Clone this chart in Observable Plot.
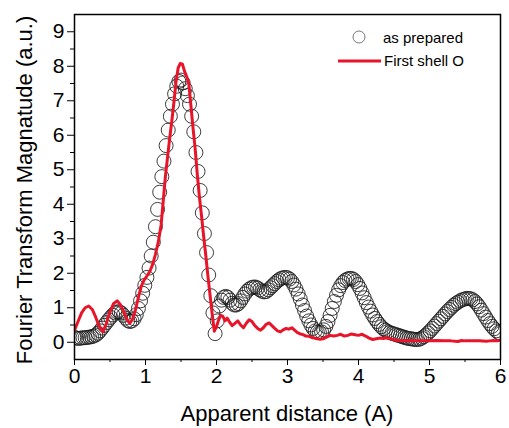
<!DOCTYPE html>
<html><head><meta charset="utf-8">
<script src="https://cdn.jsdelivr.net/npm/d3@7"></script>
<script src="https://cdn.jsdelivr.net/npm/@observablehq/plot@0.6"></script>
<style>body{margin:0;background:#fff}#chart{width:509px;height:428px}</style>
</head><body><div id="chart"></div>
<script>
const xTicks = [0, 1, 2, 3, 4, 5, 6];
const xMinor = [0.5, 1.5, 2.5, 3.5, 4.5, 5.5];
const yTicks = [0, 1, 2, 3, 4, 5, 6, 7, 8, 9];
const yMinor = [0.5, 1.5, 2.5, 3.5, 4.5, 5.5, 6.5, 7.5, 8.5];

// "as prepared" (open circles)
const prepDist = [0.00,0.03,0.06,0.09,0.12,0.15,0.18,0.21,0.24,0.27,0.30,0.33,0.36,0.39,0.42,0.45,0.48,0.51,0.54,0.57,
0.60,0.63,0.66,0.69,0.72,0.75,0.78,0.81,0.84,0.87,0.90,0.93,0.96,0.99,1.02,1.05,1.08,1.11,1.14,1.17,
1.20,1.23,1.26,1.29,1.32,1.35,1.38,1.41,1.44,1.47,1.50,1.53,1.56,1.59,1.62,1.65,1.68,1.71,1.74,1.77,
1.80,1.83,1.86,1.89,1.92,1.95,1.98,2.01,2.04,2.07,2.10,2.13,2.16,2.19,2.22,2.25,2.28,2.31,2.34,2.37,
2.40,2.43,2.46,2.49,2.52,2.55,2.58,2.61,2.64,2.67,2.70,2.73,2.76,2.79,2.82,2.85,2.88,2.91,2.94,2.97,
3.00,3.03,3.06,3.09,3.12,3.15,3.18,3.21,3.24,3.27,3.30,3.33,3.36,3.39,3.42,3.45,3.48,3.51,3.54,3.57,
3.60,3.63,3.66,3.69,3.72,3.75,3.78,3.81,3.84,3.87,3.90,3.93,3.96,3.99,4.02,4.05,4.08,4.11,4.14,4.17,
4.20,4.23,4.26,4.29,4.32,4.35,4.38,4.41,4.44,4.47,4.50,4.53,4.56,4.59,4.62,4.65,4.68,4.71,4.74,4.77,
4.80,4.83,4.86,4.89,4.92,4.95,4.98,5.01,5.04,5.07,5.10,5.13,5.16,5.19,5.22,5.25,5.28,5.31,5.34,5.37,
5.40,5.43,5.46,5.49,5.52,5.55,5.58,5.61,5.64,5.67,5.70,5.73,5.76,5.79,5.82,5.85,5.88,5.91,5.94,5.97,6.00];
const prepMag = [0.14,0.12,0.11,0.12,0.13,0.13,0.14,0.15,0.16,0.18,0.21,0.26,0.33,0.41,0.49,0.57,0.65,0.72,0.79,0.85,
0.88,0.88,0.85,0.78,0.70,0.63,0.60,0.62,0.68,0.80,0.98,1.20,1.42,1.65,1.88,2.15,2.50,2.90,3.35,3.85,
4.35,4.80,5.25,5.70,6.15,6.55,6.90,7.20,7.42,7.56,7.60,7.52,7.35,7.15,6.90,6.55,6.10,5.50,4.95,4.40,
3.75,3.15,2.60,1.95,1.35,0.85,0.25,0.62,1.05,1.22,1.30,1.33,1.30,1.22,1.13,1.08,1.08,1.12,1.20,1.30,
1.40,1.48,1.54,1.58,1.60,1.60,1.57,1.52,1.48,1.46,1.47,1.52,1.58,1.64,1.70,1.76,1.81,1.85,1.87,1.88,
1.87,1.83,1.76,1.66,1.54,1.40,1.25,1.08,0.92,0.76,0.62,0.50,0.40,0.33,0.29,0.28,0.30,0.36,0.46,0.60,
0.78,0.98,1.18,1.36,1.52,1.64,1.73,1.79,1.83,1.85,1.85,1.82,1.76,1.67,1.56,1.43,1.29,1.15,1.02,0.90,
0.79,0.69,0.60,0.52,0.45,0.39,0.35,0.31,0.28,0.26,0.24,0.22,0.20,0.18,0.16,0.14,0.12,0.11,0.10,0.09,
0.08,0.08,0.09,0.12,0.16,0.21,0.27,0.33,0.40,0.47,0.54,0.61,0.68,0.75,0.82,0.89,0.95,1.01,1.07,1.12,
1.16,1.20,1.23,1.25,1.27,1.27,1.26,1.23,1.18,1.11,1.03,0.93,0.83,0.73,0.63,0.54,0.46,0.39,0.33,0.28,0.25];

// "First shell O" (red line)
const fitDist = [0.00,0.05,0.10,0.15,0.20,0.25,0.30,0.35,0.40,0.45,0.50,0.55,0.60,0.65,0.70,0.75,0.78,0.82,0.86,0.90,
0.94,0.98,1.02,1.06,1.10,1.14,1.18,1.22,1.25,1.28,1.31,1.34,1.37,1.40,1.43,1.46,1.49,1.52,1.55,1.58,
1.61,1.64,1.67,1.70,1.73,1.76,1.79,1.82,1.85,1.88,1.91,1.94,1.97,2.00,2.03,2.06,2.09,2.12,2.15,2.18,
2.22,2.26,2.30,2.34,2.38,2.42,2.46,2.50,2.54,2.58,2.62,2.66,2.70,2.74,2.78,2.82,2.86,2.90,2.94,2.98,
3.02,3.06,3.10,3.14,3.18,3.22,3.26,3.30,3.34,3.38,3.42,3.46,3.50,3.55,3.60,3.65,3.70,3.75,3.80,3.85,
3.90,3.95,4.00,4.05,4.10,4.15,4.20,4.25,4.30,4.35,4.40,4.45,4.50,4.55,4.60,4.70,4.80,4.90,5.00,5.10,
5.20,5.30,5.40,5.45,5.50,5.60,5.70,5.80,5.85,5.90,5.95,6.00];
const fitMag = [0.35,0.60,0.85,1.00,1.05,0.95,0.72,0.45,0.30,0.55,0.88,1.12,1.20,1.08,0.85,0.62,0.55,0.68,0.95,1.30,
1.62,1.80,1.92,2.05,2.25,2.55,2.90,3.40,4.10,4.80,5.35,5.90,6.40,6.95,7.55,7.95,8.08,8.06,7.85,7.70,
7.50,6.85,6.20,5.60,4.85,4.20,3.65,3.05,2.50,1.90,1.35,0.80,0.32,0.45,0.65,0.78,0.75,0.62,0.70,0.60,
0.48,0.55,0.62,0.50,0.42,0.55,0.65,0.60,0.48,0.40,0.35,0.42,0.52,0.56,0.48,0.40,0.33,0.30,0.36,0.40,
0.38,0.42,0.35,0.28,0.24,0.22,0.18,0.17,0.14,0.12,0.10,0.09,0.10,0.15,0.20,0.18,0.20,0.23,0.18,0.20,
0.24,0.22,0.20,0.23,0.18,0.12,0.08,0.10,0.12,0.11,0.13,0.10,0.07,0.05,0.04,0.05,0.04,0.04,0.04,0.05,
0.04,0.04,0.02,0.05,0.04,0.04,0.04,0.03,0.04,0.05,0.04,0.06];

const prepared = prepDist.map((d, i) => ({d, m: prepMag[i]}));
const fit = fitDist.map((d, i) => ({d, m: fitMag[i]}));

const RED = "#e8142a";
const FONT = "'Liberation Sans', Arial, sans-serif";

const svg = Plot.plot({
  width: 509, height: 428,
  marginLeft: 74, marginRight: 9, marginTop: 14, marginBottom: 69,
  style: {fontFamily: FONT, fontSize: "21px", background: "#fff", color: "#000"},
  x: {domain: [0, 6]},
  y: {domain: [-0.5, 9.5]},
  marks: [
    Plot.dot(prepared, {x: "d", y: "m", r: 7, stroke: "#1a1a1a", strokeWidth: 0.85, fill: "none", clip: true}),
    Plot.line(fit, {x: "d", y: "m", stroke: RED, strokeWidth: 3, clip: true}),
    Plot.axisX({ticks: xTicks, tickSize: 6, tickPadding: 3, tickFormat: d3.format("d"), fontSize: 21,
      label: null}),
    Plot.axisX({ticks: xMinor, tickSize: 3, text: null, label: null}),
    Plot.axisY({ticks: yTicks, tickSize: 7, tickPadding: 3, tickFormat: d3.format("d"), fontSize: 21,
      label: null}),
    Plot.axisY({ticks: yMinor, tickSize: 4, text: null, label: null}),
    Plot.frame({stroke: "#000", strokeWidth: 1.5})
  ]
});

const s = d3.select(svg);
s.append("text").attr("font-family", FONT).attr("font-size", 22).attr("text-anchor", "middle")
  .attr("x", 287).attr("y", 421).text("Apparent distance (A)");
s.append("text").attr("font-family", FONT).attr("font-size", 22).attr("text-anchor", "middle")
  .attr("transform", "translate(32,190) rotate(-90)").text("Fourier Transform Magnatude (a.u.)");

const g = s.append("g").attr("font-family", FONT).attr("font-size", 15).attr("text-anchor", "start");
g.append("circle").attr("cx", 359).attr("cy", 37).attr("r", 6).attr("fill", "none").attr("stroke", "#555").attr("stroke-width", 0.8);
g.append("text").attr("x", 383).attr("y", 43).text("as prepared");
g.append("line").attr("x1", 338).attr("x2", 381).attr("y1", 61).attr("y2", 61).attr("stroke", RED).attr("stroke-width", 3);
g.append("text").attr("x", 384).attr("y", 66).text("First shell O");

document.getElementById("chart").appendChild(svg);
</script></body></html>
